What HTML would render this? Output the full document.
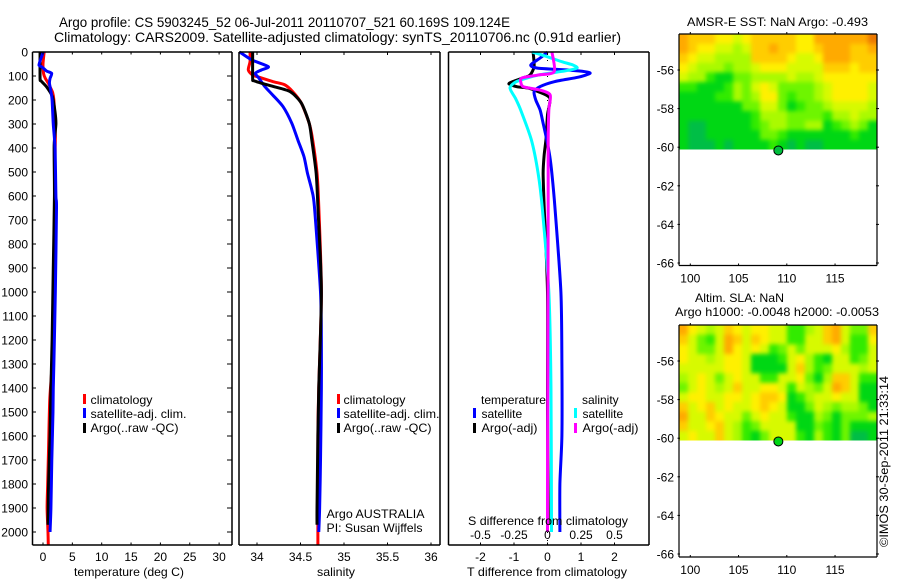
<!DOCTYPE html>
<html>
<head>
<meta charset="utf-8">
<title>Argo profile</title>
<style>
html,body{margin:0;padding:0;background:#fff;}
svg{display:block;}
text{font-family:"Liberation Sans",sans-serif;font-size:12px;fill:#000;}
</style>
</head>
<body>
<svg id="chart" xmlns="http://www.w3.org/2000/svg" width="900" height="580" viewBox="0 0 900 580">
<defs>
<filter id="mapSmooth" x="-0.1" y="-0.2" width="1.2" height="1.4" color-interpolation-filters="sRGB">
<feGaussianBlur stdDeviation="2"/>
</filter>
<clipPath id="sstClip"><rect x="679" y="34" width="198" height="115.5"/></clipPath>
<clipPath id="slaClip"><rect x="679" y="325" width="198" height="115.5"/></clipPath>
</defs>
<rect x="0" y="0" width="900" height="580" fill="#fff"/>
<text x="59" y="27" font-size="14" style="font-size:14px" textLength="451" lengthAdjust="spacingAndGlyphs">Argo profile: CS 5903245_52 06-Jul-2011 20110707_521 60.169S 109.124E</text>
<text x="54" y="42" style="font-size:14px" textLength="567" lengthAdjust="spacingAndGlyphs">Climatology: CARS2009. Satellite-adjusted climatology: synTS_20110706.nc (0.91d earlier)</text>
<g id="heat"></g>
<g id="marks"></g>
<g id="axes"></g>

<g>
<rect x="83" y="394" width="3" height="10" fill="#f00"/>
<text x="90.5" y="404" textLength="62" lengthAdjust="spacingAndGlyphs">climatology</text>
<rect x="83" y="408" width="3" height="10" fill="#00f"/>
<text x="90.5" y="418" textLength="96" lengthAdjust="spacingAndGlyphs">satellite-adj. clim.</text>
<rect x="83" y="423" width="3" height="10" fill="#000"/>
<text x="90.5" y="432" textLength="88" lengthAdjust="spacingAndGlyphs">Argo(..raw -QC)</text>
</g>
<g>
<rect x="337" y="394" width="3" height="10" fill="#f00"/>
<text x="343.5" y="404" textLength="62" lengthAdjust="spacingAndGlyphs">climatology</text>
<rect x="337" y="408" width="3" height="10" fill="#00f"/>
<text x="343.5" y="418" textLength="96" lengthAdjust="spacingAndGlyphs">satellite-adj. clim.</text>
<rect x="337" y="423" width="3" height="10" fill="#000"/>
<text x="343.5" y="432" textLength="88" lengthAdjust="spacingAndGlyphs">Argo(..raw -QC)</text>
<text x="326.5" y="518" textLength="98" lengthAdjust="spacingAndGlyphs">Argo AUSTRALIA</text>
<text x="326.5" y="532" textLength="96" lengthAdjust="spacingAndGlyphs">PI: Susan Wijffels</text>
</g>
<g>
<text x="481" y="404" textLength="65" lengthAdjust="spacingAndGlyphs">temperature</text>
<rect x="473" y="408" width="3" height="10" fill="#00f"/>
<text x="481.5" y="418">satellite</text>
<rect x="473" y="423" width="3" height="10" fill="#000"/>
<text x="481.5" y="432" textLength="56" lengthAdjust="spacingAndGlyphs">Argo(-adj)</text>
<text x="582" y="404">salinity</text>
<rect x="574" y="408" width="3" height="10" fill="#0ff"/>
<text x="582.5" y="418">satellite</text>
<rect x="574" y="423" width="3" height="10" fill="#f0f"/>
<text x="582.5" y="432" textLength="56" lengthAdjust="spacingAndGlyphs">Argo(-adj)</text>
</g>

<text x="74" y="576" textLength="110" lengthAdjust="spacingAndGlyphs">temperature (deg C)</text>
<text x="317" y="576" textLength="38" lengthAdjust="spacingAndGlyphs">salinity</text>
<text x="467" y="576" textLength="160" lengthAdjust="spacingAndGlyphs">T difference from climatology</text>
<text x="468" y="525" textLength="160" lengthAdjust="spacingAndGlyphs">S difference from climatology</text>
<text x="687" y="26" textLength="181" lengthAdjust="spacingAndGlyphs">AMSR-E SST: NaN Argo: -0.493</text>
<text x="695" y="302" textLength="89" lengthAdjust="spacingAndGlyphs">Altim. SLA: NaN</text>
<text x="675" y="316" textLength="204" lengthAdjust="spacingAndGlyphs">Argo h1000: -0.0048 h2000: -0.0053</text>
<text transform="translate(888,547) rotate(-90)" x="0" y="0" textLength="171" lengthAdjust="spacingAndGlyphs">©IMOS 30-Sep-2011 21:33:14</text>
</svg>

<script>
// ---- profile data ----
const depthTicks = [0,100,200,300,400,500,600,700,800,900,1000,1100,1200,1300,1400,1500,1600,1700,1800,1900,2000];
const temperatureTicks = [0,5,10,15,20,25,30];
const salinityTicks = [34,34.5,35,35.5,36];
const salinityTickLabels = ['34','34.5','35','35.5','36'];
const tDiffTicks = [-2,-1,0,1,2];
const sDiffTicks = [-0.5,-0.25,0,0.25,0.5];
const sDiffTickLabels = ['-0.5','-0.25','0','0.25','0.5'];

const tempClimDepth = [0,50,90,110,130,150,170,200,250,350,500,700,900,1100,1300,1450,1650,1800,1900,2000,2054];
const tempClimValue = [0.2,0.0,0.1,0.4,0.9,1.3,1.65,1.85,1.95,2.1,2.0,1.95,1.9,1.7,1.55,1.15,0.95,0.8,0.7,0.85,0.9];
const tempSatDepth = [0,30,55,62,79,89,110,130,165,200,300,400,600,650,1000,1300,1400,1500,1700,1900,2000];
const tempSatValue = [0.05,-0.4,-0.68,-0.2,0.6,1.48,1.2,1.1,1.36,1.55,1.75,2.05,2.2,2.3,2.1,1.85,1.75,1.7,1.5,1.35,1.2];
const tempArgoDepth = [0,110,120,145,186,250,300,390,600,900,1200,1400,1600,1800,1970];
const tempArgoValue = [-0.5,-0.5,-0.35,0.6,1.6,2.05,2.2,1.9,1.95,1.75,1.55,1.35,1.2,0.95,0.85];

const salClimDepth = [0,40,75,96,108,124,137,165,213,297,367,505,644,1000,1400,1600,2054];
const salClimValue = [33.92,33.92,33.9,33.95,34.05,34.19,34.32,34.41,34.51,34.6,34.64,34.69,34.71,34.74,34.71,34.7,34.7];
const salSatDepth = [0,33,61,75,89,108,144,179,228,297,367,436,505,575,644,1000,1200,1400,1700,1900,2000];
const salSatValue = [33.8,33.94,34.13,34.05,33.98,34.02,34.09,34.18,34.3,34.4,34.47,34.54,34.58,34.63,34.66,34.73,34.74,34.74,34.73,34.72,34.71];
const salArgoDepth = [0,110,119,130,144,165,213,297,367,505,644,1000,1400,1600,1900,1970];
const salArgoValue = [33.95,33.95,33.96,34.05,34.19,34.38,34.51,34.6,34.63,34.68,34.7,34.74,34.71,34.7,34.69,34.69];

const dTSatDepth = [0,25,54,67,75,82,89,105,123,144,165,200,242,297,367,436,505,644,1000,1300,1600,1800,2000];
const dTSatValue = [0,-0.22,-0.5,-0.3,0.6,1.12,1.27,0.92,0.22,-0.22,-0.4,-0.35,-0.22,-0.13,-0.02,0.07,0.13,0.22,0.4,0.43,0.43,0.37,0.37];
const dTArgoDepth = [0,60,96,108,123,133,145,150,165,192,262,357,430,505,644,1000,1500,1900,1970];
const dTArgoValue = [-0.43,-0.4,-0.52,-0.73,-1.03,-1.15,-0.9,-0.58,-0.28,0.07,0,-0.04,-0.1,-0.13,-0.1,0,0,0.02,0.02];
const dSSatDepth = [0,20,41,54,67,79,96,123,150,192,242,367,505,644,1000,1400,2000];
const dSSatValue = [-0.115,0,0.11,0.19,0.22,0.13,-0.07,-0.23,-0.28,-0.24,-0.2,-0.12,-0.07,-0.04,0.01,0.026,0.03];
const dSArgoDepth = [0,82,96,108,123,145,158,179,242,367,644,1400,1800,2000];
const dSArgoValue = [0.033,0.05,-0.07,-0.19,-0.2,-0.18,-0.06,0.02,0.01,0.005,0.005,0.002,0,0];

// ---- map data ----
const lonTicks = [100,105,110,115];
const latTicks = [-56,-58,-60,-62,-64,-66];
const argoLon = 109.124;
const argoLat = -60.169;
const sstGrid = [
[8,7,7,7,6,6,5,6,7,7,7,7,7,6,6,8,8,8,8,8,8,9],
[8,7,6,6,5,5,4,5,7,7,8,7,7,6,6,7,8,8,8,7,7,8],
[7,6,5,5,4,4,4,4,7,7,7,7,6,5,5,6,8,8,8,7,7,7],
[6,5,4,4,4,3,4,4,5,6,6,6,5,5,5,5,7,7,7,6,7,7],
[5,4,4,2,1,1,3,3,4,4,4,4,5,4,4,5,6,6,6,6,6,6],
[2,2,1,1,1,2,4,3,5,6,5,3,3,3,3,4,5,6,6,6,6,5],
[1,1,1,1,2,2,4,3,4,6,6,3,2,3,3,4,5,6,6,6,6,5],
[1,1,1,1,1,1,1,3,3,5,5,3,1,2,3,3,4,5,5,5,5,4],
[1,1,1,1,1,1,1,1,2,4,4,4,3,3,3,3,2,4,4,5,4,4],
[1,0,0,1,1,1,1,1,2,3,4,4,3,3,4,4,1,2,3,4,3,1],
[1,0,0,1,1,1,1,1,1,3,3,2,1,1,1,1,1,1,1,2,1,1],
[1,0,0,0,1,0,1,1,1,1,2,1,0,1,0,0,1,1,1,1,1,1]
];
const slaGrid = [
[8,6,5,4,5,7,6,5,6,6,5,5,2,2,4,5,7,8,5,3,3,7],
[7,5,3,2,5,8,7,5,7,6,5,5,2,2,5,5,7,8,5,2,2,6],
[6,5,3,3,5,8,6,5,6,5,2,3,5,3,5,5,5,6,4,2,2,5],
[6,5,5,4,5,6,6,5,1,1,1,2,5,6,4,2,1,5,5,2,3,5],
[5,5,5,5,5,6,6,5,1,1,1,1,5,7,4,2,3,5,5,5,4,5],
[4,5,6,5,3,5,6,5,5,2,2,5,5,6,3,1,4,7,7,5,2,2],
[3,5,6,5,4,5,7,5,5,6,6,5,2,5,4,3,5,8,7,5,1,1],
[5,6,6,5,5,6,6,5,6,7,7,6,1,2,4,5,5,6,5,5,1,1],
[7,5,6,7,5,6,5,5,6,7,6,5,1,1,3,5,4,3,4,4,3,1],
[8,5,5,7,6,5,5,3,5,6,5,5,2,1,1,4,3,1,3,3,3,4],
[7,5,5,6,7,5,4,2,3,5,5,5,5,1,1,3,2,1,3,1,1,1],
[5,6,5,5,7,5,4,2,1,3,5,5,5,2,1,4,2,1,3,0,0,1]
];
const heatPalette = ['#00be46','#00d714','#32eb00','#6ef500','#aafa00','#d7fa00','#fff000','#ffcd00','#ffaa00','#eb7800'];

// ---- helpers ----
const NS = 'http://www.w3.org/2000/svg';
const heatLayer = document.getElementById('heat');
const marksLayer = document.getElementById('marks');
const axesLayer = document.getElementById('axes');
const edgeBleed = 8;

function depthY(d){ return 52 + d * 0.24; }
function tempX(t){ return 43 + t * 5.87; }
function salX(s){ return 257 + (s - 34) * 87; }
function dTX(t){ return 547.5 + t * 33.5; }
function dSX(s){ return 547.5 + s * 134; }
function lonX(lon){ return 690.3 + (lon - 100) * 9.65; }
function latY(lat, y56){ return y56 + (-56 - lat) * 19.3; }

function smoothPath(pts){
  let d = 'M' + pts[0][0].toFixed(2) + ' ' + pts[0][1].toFixed(2);
  for (let i = 0; i < pts.length - 1; i++) {
    const p0 = pts[Math.max(i - 1, 0)];
    const p1 = pts[i];
    const p2 = pts[i + 1];
    const p3 = pts[Math.min(i + 2, pts.length - 1)];
    const c1x = p1[0] + (p2[0] - p0[0]) / 8;
    const c1y = p1[1] + (p2[1] - p0[1]) / 8;
    const c2x = p2[0] - (p3[0] - p1[0]) / 8;
    const c2y = p2[1] - (p3[1] - p1[1]) / 8;
    d += 'C' + c1x.toFixed(2) + ' ' + c1y.toFixed(2) + ' ' + c2x.toFixed(2) + ' ' + c2y.toFixed(2) + ' ' + p2[0].toFixed(2) + ' ' + p2[1].toFixed(2);
  }
  return d;
}
function addProfile(name, xFn, depths, values, color, width){
  const el = document.createElementNS(NS, 'path');
  
  
  el.setAttribute('d', smoothPath(depths.map((d, i) => [xFn(values[i]), depthY(d)])));
  el.setAttribute('fill', 'none');
  el.setAttribute('stroke', color);
  el.setAttribute('stroke-width', width);
  el.setAttribute('stroke-linejoin', 'round');
  marksLayer.appendChild(el);
}
function addLine(x1, y1, x2, y2, w){
  const el = document.createElementNS(NS, 'line');
  
  
  el.setAttribute('x1', x1);
  el.setAttribute('y1', y1);
  el.setAttribute('x2', x2);
  el.setAttribute('y2', y2);
  el.setAttribute('stroke', '#000');
  el.setAttribute('stroke-width', w);
  axesLayer.appendChild(el);
}
function addLabel(label, x, y, anchor){
  const el = document.createElementNS(NS, 'text');
  
  
  el.setAttribute('x', x);
  el.setAttribute('y', y);
  el.setAttribute('text-anchor', anchor);
  el.textContent = label;
  axesLayer.appendChild(el);
}
function addFrame(x0, x1, y0, y1, w){
  addLine(x0, y0, x1, y0, w);
  addLine(x0, y1, x1, y1, w);
  addLine(x0, y0, x0, y1, w);
  addLine(x1, y0, x1, y1, w);
}
function addMap(grid, name, clipId, top, bottom, y56, circleFill){
  const rows = grid.length;
  const cols = grid[0].length;
  const left = 679;
  const right = 877;
  const dataBottom = top + 115.5;
  const cw = (right - left) / cols;
  const ch = (dataBottom - top) / rows;
  const clipGroup = document.createElementNS(NS, 'g');
  
  
  clipGroup.setAttribute('clip-path', 'url(#' + clipId + ')');
  heatLayer.appendChild(clipGroup);
  const cellGroup = document.createElementNS(NS, 'g');
  
  
  cellGroup.setAttribute('filter', 'url(#mapSmooth)');
  clipGroup.appendChild(cellGroup);
  grid.forEach((row, r) => {
    row.forEach((v, c) => {
      // outermost cells bleed past the clip so the smoothing does not fade at the edges
      const padL = c === 0 ? edgeBleed : 0;
      const padR = c === cols - 1 ? edgeBleed : 0;
      const padT = r === 0 ? edgeBleed : 0;
      const padB = r === rows - 1 ? edgeBleed : 0;
      const cell = document.createElementNS(NS, 'rect');
      
      
      cell.setAttribute('x', (left + c * cw - padL).toFixed(2));
      cell.setAttribute('y', (top + r * ch - padT).toFixed(2));
      cell.setAttribute('width', (cw + 0.4 + padL + padR).toFixed(2));
      cell.setAttribute('height', (ch + 0.4 + padT + padB).toFixed(2));
      cell.setAttribute('fill', heatPalette[v]);
      cellGroup.appendChild(cell);
    });
  });
  addFrame(left, right, top, bottom, 1.2);
  lonTicks.forEach(t => {
    addLine(lonX(t), top, lonX(t), top - 2, 1);
    addLine(lonX(t), bottom, lonX(t), bottom - 2, 1);
    addLabel(String(t), lonX(t), bottom + 17, 'middle');
  });
  latTicks.forEach(t => {
    addLine(left - 1.5, latY(t, y56), left + 1, latY(t, y56), 1);
    addLine(right - 1, latY(t, y56), right + 2, latY(t, y56), 1);
    addLabel(String(t), 674, latY(t, y56) + 4.5, 'end');
  });
  const dot = document.createElementNS(NS, 'circle');
  
  
  dot.setAttribute('cx', lonX(argoLon).toFixed(2));
  dot.setAttribute('cy', latY(argoLat, y56).toFixed(2));
  dot.setAttribute('r', 4.5);
  dot.setAttribute('fill', circleFill);
  dot.setAttribute('stroke', '#000');
  dot.setAttribute('stroke-width', 1);
  axesLayer.appendChild(dot);
}

// ---- zero line in the difference panel ----
const zeroLine = document.createElementNS(NS, 'line');


zeroLine.setAttribute('x1', dTX(0));
zeroLine.setAttribute('x2', dTX(0));
zeroLine.setAttribute('y1', depthY(0));
zeroLine.setAttribute('y2', depthY(2054));
zeroLine.setAttribute('stroke', '#000');
zeroLine.setAttribute('stroke-width', 1);
zeroLine.setAttribute('stroke-dasharray', '1 7');
marksLayer.appendChild(zeroLine);

// ---- profiles ----
addProfile('temperature-climatology-line', tempX, tempClimDepth, tempClimValue, '#f00', 3);
addProfile('temperature-argo-line', tempX, tempArgoDepth, tempArgoValue, '#000', 3);
addProfile('temperature-satellite-line', tempX, tempSatDepth, tempSatValue, '#00f', 3);
addProfile('salinity-climatology-line', salX, salClimDepth, salClimValue, '#f00', 3);
addProfile('salinity-satellite-line', salX, salSatDepth, salSatValue, '#00f', 3);
addProfile('salinity-argo-line', salX, salArgoDepth, salArgoValue, '#000', 3);
addProfile('t-difference-argo-line', dTX, dTArgoDepth, dTArgoValue, '#000', 3);
addProfile('t-difference-satellite-line', dTX, dTSatDepth, dTSatValue, '#00f', 3);
addProfile('s-difference-satellite-line', dSX, dSSatDepth, dSSatValue, '#0ff', 3);
addProfile('s-difference-argo-line', dSX, dSArgoDepth, dSArgoValue, '#f0f', 3);

// ---- axes ----
const panelTop = 52;
const panelBottom = 545;
addFrame(32.5, 232, panelTop, panelBottom, 1.5);
addFrame(239, 440, panelTop, panelBottom, 1.5);
addFrame(448.5, 649, panelTop, panelBottom, 1.5);

depthTicks.forEach(d => {
  addLine(32.5, depthY(d), 36, depthY(d), 1);
  addLine(227, depthY(d), 232, depthY(d), 1);
  addLabel(String(d), 28, depthY(d) + 4.5, 'end');
});
temperatureTicks.forEach(t => {
  addLine(tempX(t), panelTop, tempX(t), panelTop + 2.5, 1);
  addLine(tempX(t), panelBottom, tempX(t), panelBottom - 2.5, 1);
  addLabel(String(t), tempX(t), 561, 'middle');
});
salinityTicks.forEach((s, i) => {
  addLine(salX(s), panelTop, salX(s), panelTop + 3, 1);
  addLine(salX(s), panelBottom, salX(s), panelBottom - 2.5, 1);
  addLabel(salinityTickLabels[i], salX(s), 561, 'middle');
});
tDiffTicks.forEach(t => {
  addLine(dTX(t), panelTop, dTX(t), panelTop + 3, 1);
  addLine(dTX(t), panelBottom, dTX(t), panelBottom - 2.5, 1);
  addLabel(String(t), dTX(t), 561, 'middle');
});
sDiffTicks.forEach((s, i) => {
  addLabel(sDiffTickLabels[i], dSX(s), 539, 'middle');
});

// ---- maps ----
addMap(sstGrid, 'sst-map', 'sstClip', 34, 265.5, 70, '#00be3c');
addMap(slaGrid, 'sla-map', 'slaClip', 325, 557, 361, '#00d714');
</script>
</body>
</html>
